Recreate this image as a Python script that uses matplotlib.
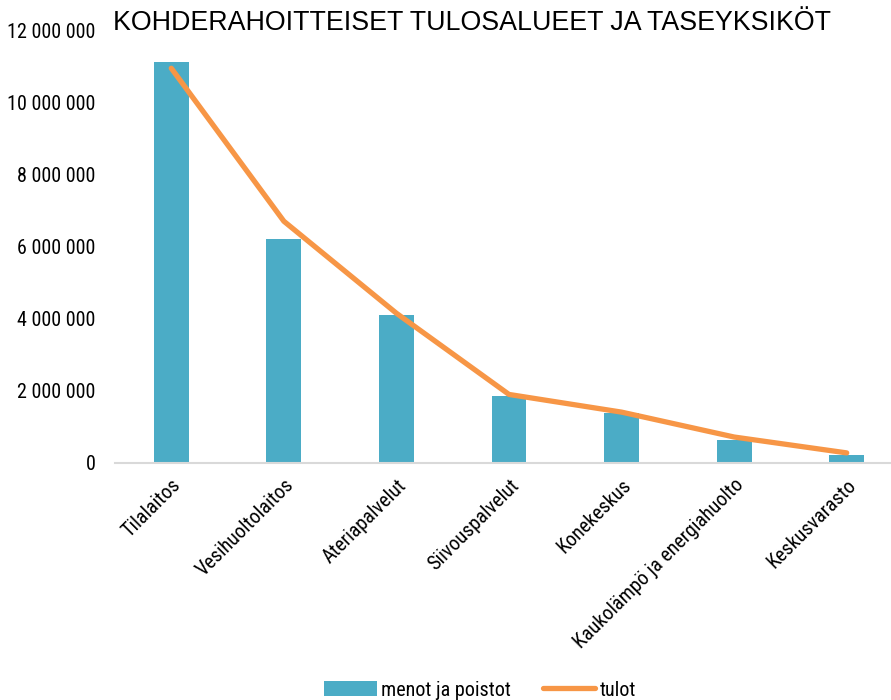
import matplotlib
matplotlib.use("Agg")
import matplotlib.pyplot as plt
from matplotlib.ticker import FuncFormatter

NARROW = ['Liberation Sans Narrow', 'Arial Narrow', 'Roboto Condensed', 'DejaVu Sans']
plt.rcParams['font.family'] = NARROW

categories = ["Tilalaitos", "Vesihuoltolaitos", "Ateriapalvelut", "Siivouspalvelut",
              "Konekeskus", "Kaukolämpö ja energiahuolto", "Keskusvarasto"]
menot = [11100000, 6200000, 4100000, 1860000, 1380000, 640000, 220000]
tulot = [10940000, 6700000, 4150000, 1900000, 1410000, 720000, 280000]
yticks = [0, 2000000, 4000000, 6000000, 8000000, 10000000, 12000000]

fig = plt.figure(figsize=(8.91, 7.0), dpi=100)
ax = fig.add_axes([115/891, (700-463)/700, 788/891, 433/700])

x = list(range(len(categories)))
ax.bar(x, menot, width=0.31, color="#4BACC6", label="menot ja poistot", zorder=2)
ax.plot(x, tulot, color="#F79646", linewidth=3.8, solid_capstyle="round", label="tulot", zorder=3)

ax.set_xlim(-0.5, len(categories) - 0.5)
ax.set_ylim(0, 12000000)
ax.set_yticks(yticks)
ax.yaxis.set_major_formatter(FuncFormatter(lambda v, p: f"{int(v):,}".replace(",", " ")))
ax.set_xticks(x)
ax.set_xticklabels(categories, rotation=45, ha="right", rotation_mode="anchor")
ax.tick_params(axis="both", length=0, labelsize=14.5, colors="#000000")
ax.tick_params(axis="y", pad=14)
ax.tick_params(axis="x", pad=9)
for s in ["top", "right", "left"]:
    ax.spines[s].set_visible(False)
ax.spines["bottom"].set_color("#D9D9D9")
ax.spines["bottom"].set_linewidth(1.5)

fig.text(113/891, 1 - 23/700, "KOHDERAHOITTEISET TULOSALUEET JA TASEYKSIKÖT",
         fontsize=19.3, va="center", ha="left", family=['Liberation Sans', 'DejaVu Sans'])

handles, labels = ax.get_legend_handles_labels()
order = [labels.index("menot ja poistot"), labels.index("tulot")]
fig.legend([handles[i] for i in order], [labels[i] for i in order],
           loc="center", bbox_to_anchor=(480/891, 1 - 690/700), ncol=2, frameon=False,
           fontsize=14.5, handlelength=2.6, columnspacing=1.6, handletextpad=0.2)

fig.savefig("out.png", dpi=100)
